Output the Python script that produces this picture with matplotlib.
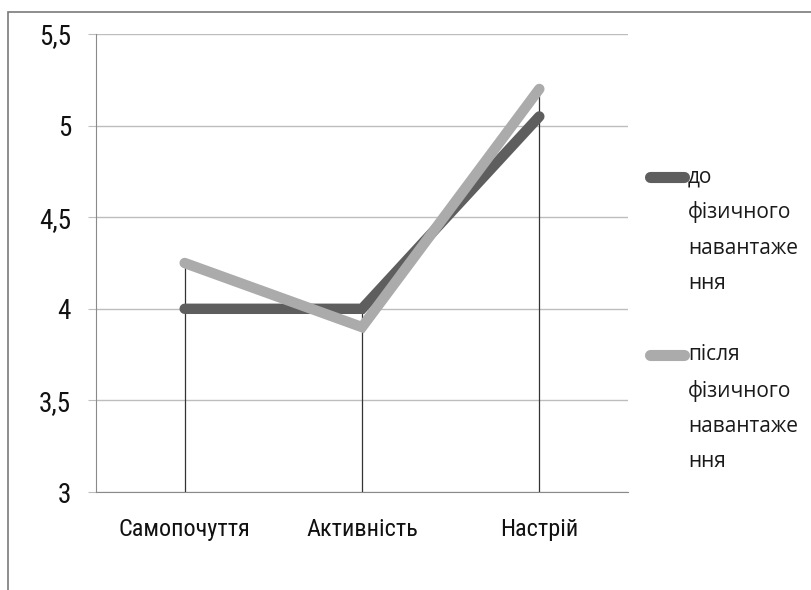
import matplotlib
matplotlib.use("Agg")
import matplotlib.pyplot as plt
from matplotlib.lines import Line2D
from matplotlib.patches import Rectangle
from matplotlib import font_manager

categories = ["Самопочуття", "Активність", "Настрій"]
before_vals = [4.0, 4.0, 5.05]
after_vals = [4.25, 3.9, 5.2]
before_label = ["до", "фізичного", "навантаже", "ння"]
after_label = ["після", "фізичного", "навантаже", "ння"]
y_ticks = [3, 3.5, 4, 4.5, 5, 5.5]
y_tick_labels = ["3", "3,5", "4", "4,5", "5", "5,5"]

# pick a narrow face for the axis labels if one is installed
axis_font = {"family": "DejaVu Sans"}
fonts = font_manager.fontManager.ttflist
for name in ["Liberation Sans Narrow", "Roboto Condensed", "Open Sans Condensed",
             "Noto Sans Condensed"]:
    if any(f.name == name for f in fonts):
        axis_font = {"family": name}
        break
else:
    for fam in ["DejaVu Sans", "Noto Sans", "Open Sans", "Roboto"]:
        if any(f.name == fam and f.stretch in ("condensed", 75, "semi-condensed", 87.5)
               for f in fonts):
            axis_font = {"family": fam, "stretch": "condensed"}
            break

legend_font = "Open Sans"

DARK = "#5e5e5e"
LIGHT = "#ababab"

fig = plt.figure(figsize=(8.11, 5.90), dpi=100)
ax = fig.add_axes([96 / 811, 1 - 492 / 590, (628 - 96) / 811, (492 - 34) / 590])

x = list(range(len(categories)))
ax.set_xlim(-0.5, len(categories) - 0.5)
ax.set_ylim(3, 5.5)

# drop lines from the highest point of each category down to the floor
for xi, b, a in zip(x, before_vals, after_vals):
    ax.vlines(xi, 3, max(b, a), color="#333333", lw=0.9, zorder=2)

ax.plot(x, before_vals, color=DARK, lw=7.5, solid_capstyle="round",
        solid_joinstyle="miter", zorder=3)
ax.plot(x, after_vals, color=LIGHT, lw=7.5, solid_capstyle="round",
        solid_joinstyle="miter", zorder=4)

ax.set_yticks(y_ticks)
ax.set_yticklabels(y_tick_labels, fontsize=19.5, color="#111111", **axis_font)
ax.set_xticks(x)
ax.set_xticklabels(categories, fontsize=17.5, color="#111111", **axis_font)
ax.yaxis.grid(True, color="#bdbdbd", lw=1.0)
ax.set_axisbelow(True)
ax.tick_params(axis="y", length=6, color="#bdbdbd", pad=12)
ax.tick_params(axis="x", length=0, pad=19)
for side in ["top", "right"]:
    ax.spines[side].set_visible(False)
ax.spines["left"].set_color("#8a8a8a")
ax.spines["bottom"].set_color("#8a8a8a")

# legend drawn beside the plot area
def legend_entry(y_first, color, lines):
    fig.add_artist(Line2D([650 / 811, 684 / 811], [1 - y_first / 590] * 2,
                          color=color, lw=8, solid_capstyle="round",
                          transform=fig.transFigure))
    for i, t in enumerate(lines):
        fig.text(688 / 811, 1 - (y_first + i * 35.5) / 590, t,
                 fontfamily=legend_font, fontsize=15, color="#1a1a1a",
                 va="center", ha="left")

legend_entry(177, DARK, before_label)
legend_entry(355, LIGHT, after_label)

# chart frame
fig.add_artist(Rectangle((8 / 811, -0.05), 1.1, 1 - 12 / 590 + 0.05,
                         transform=fig.transFigure, fill=False,
                         edgecolor="#7a7a7a", lw=1.2))

fig.savefig("out.png", dpi=100)
